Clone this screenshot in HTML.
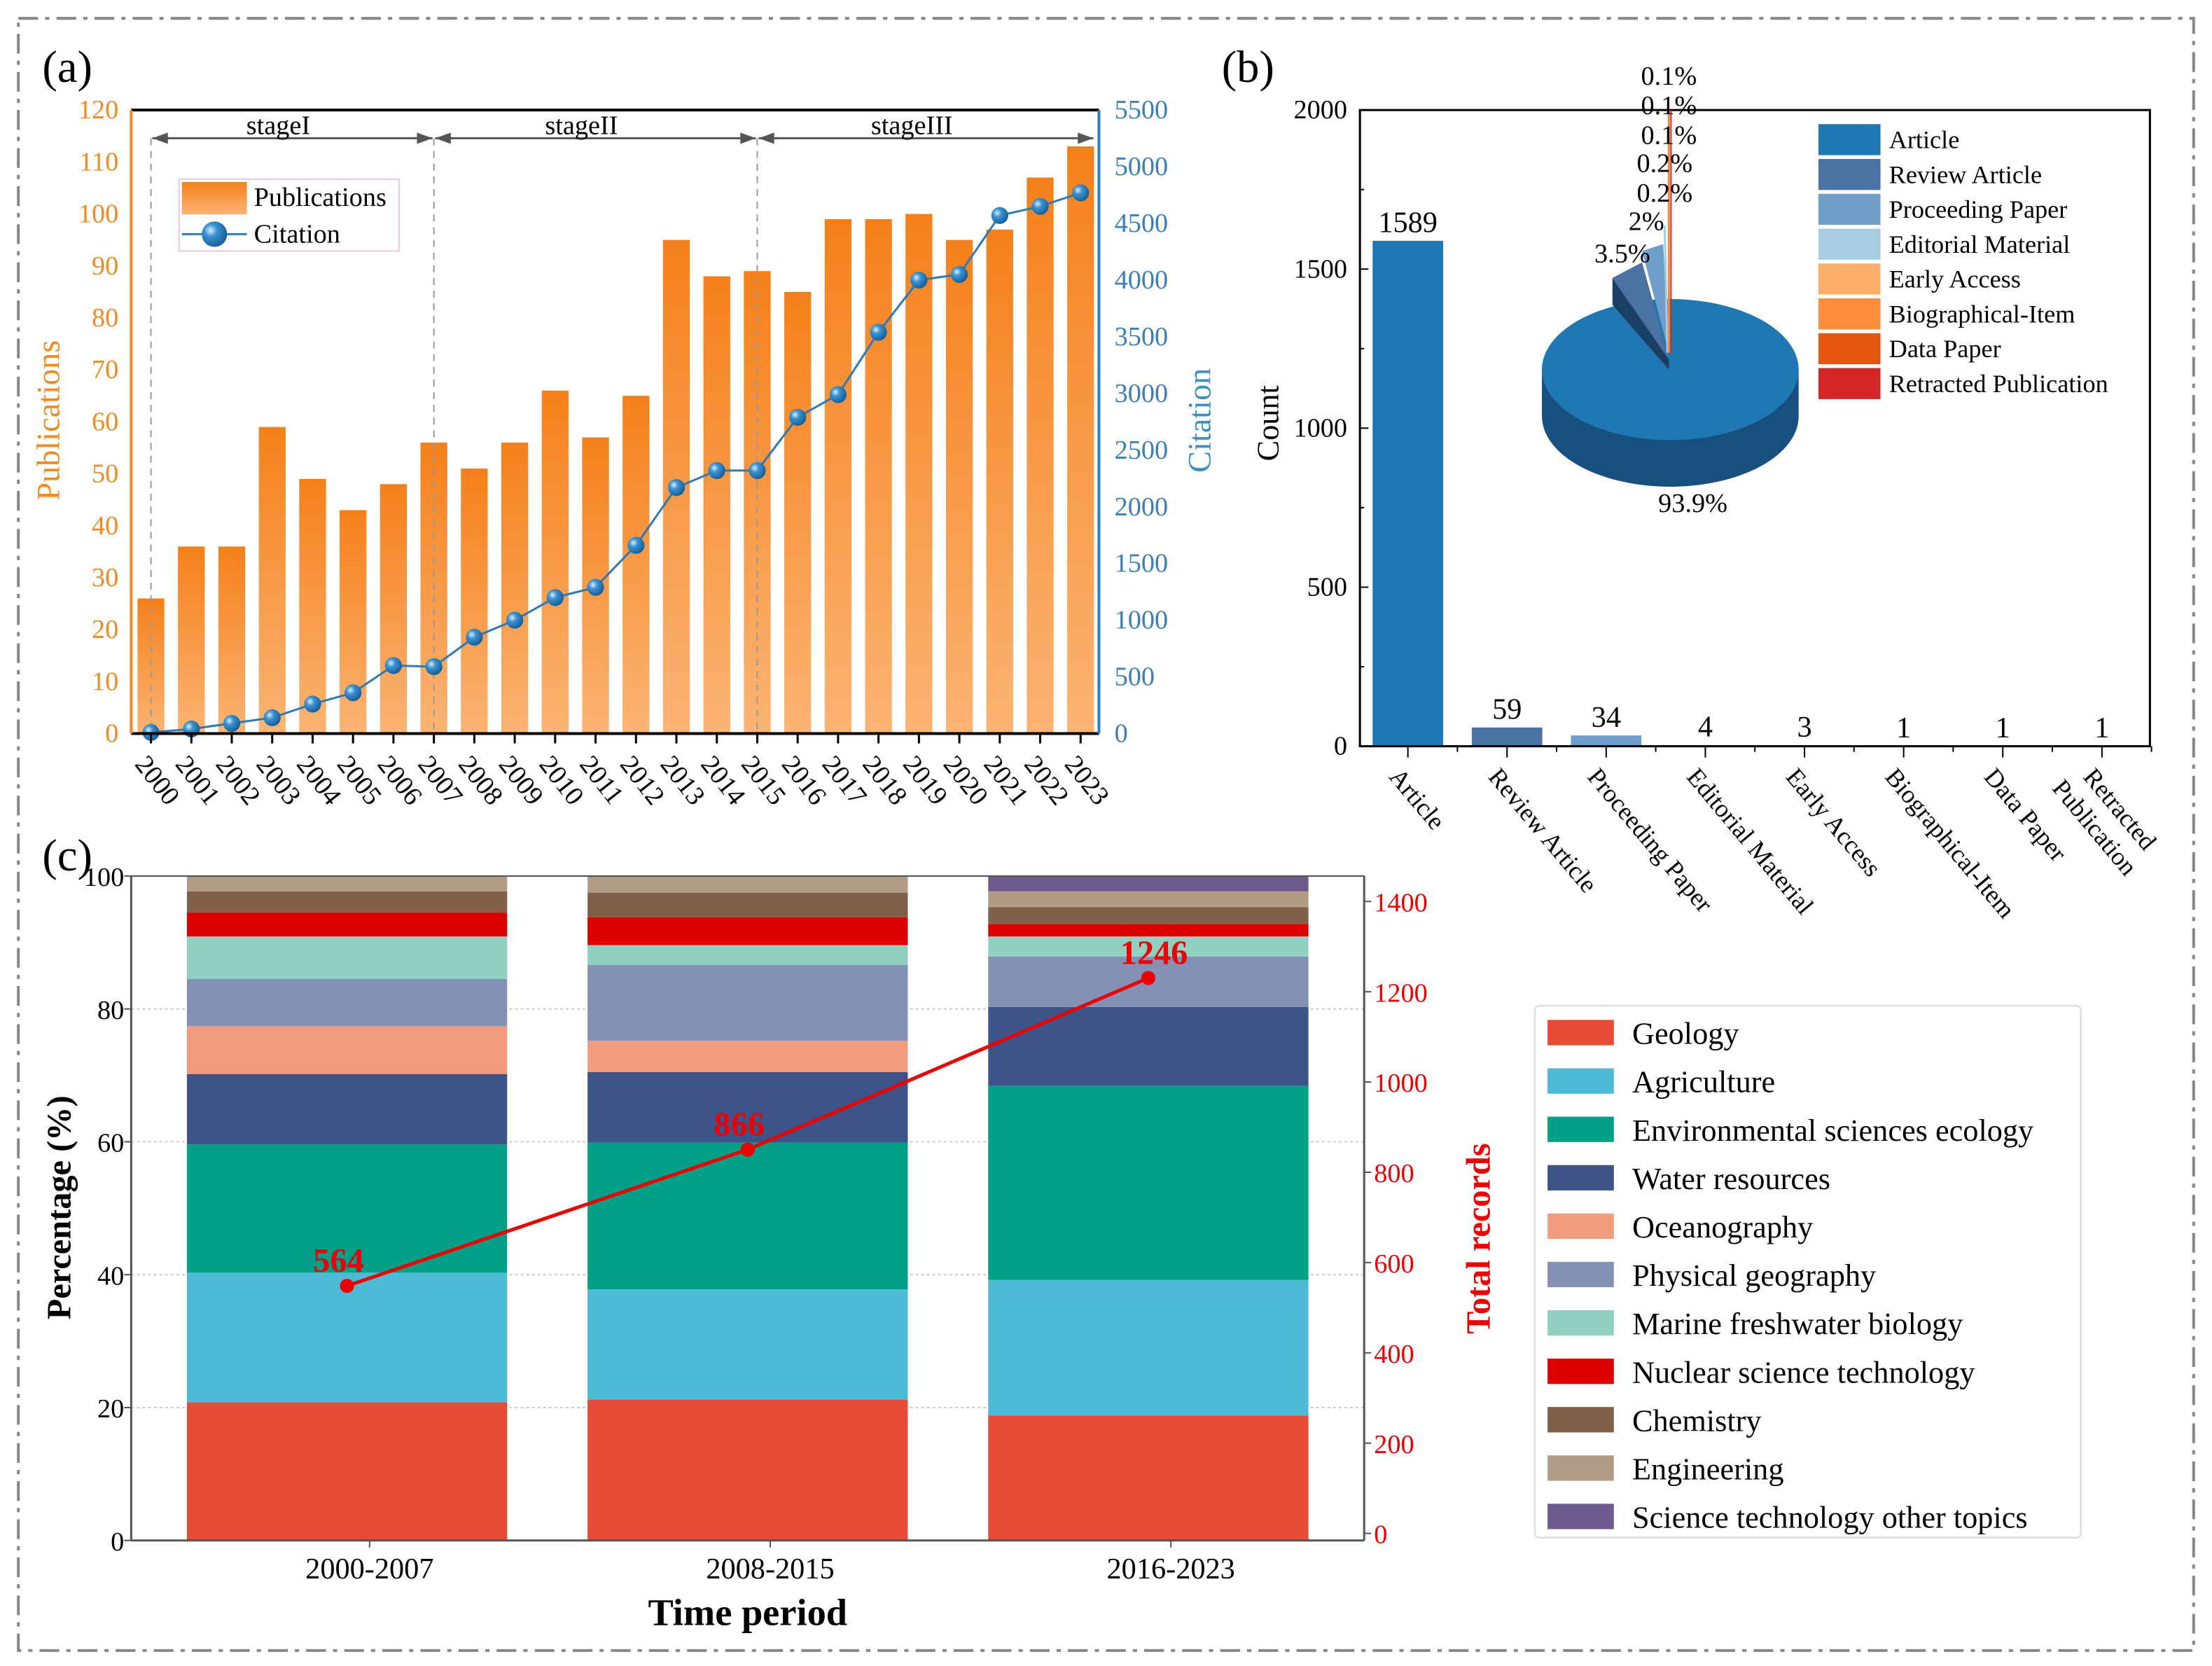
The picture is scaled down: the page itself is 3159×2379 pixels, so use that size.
<!DOCTYPE html>
<html><head><meta charset="utf-8">
<style>
html,body{margin:0;padding:0;background:#fff;}
svg{display:block;font-family:"Liberation Serif",serif;}
</style></head>
<body>
<svg id="fig" xmlns="http://www.w3.org/2000/svg" width="3159" height="2379" viewBox="0 0 1568 1181" preserveAspectRatio="none">
<defs>
<linearGradient id="barGrad" x1="0" y1="0" x2="0" y2="1">
<stop offset="0" stop-color="#f5801a"/><stop offset="1" stop-color="#fbb473"/>
</linearGradient>
<radialGradient id="ball" cx="0.35" cy="0.35" r="0.7">
<stop offset="0" stop-color="#d8eefc"/><stop offset="0.35" stop-color="#3a93d3"/><stop offset="1" stop-color="#155a94"/>
</radialGradient>
</defs>
<rect x="13" y="13" width="1542" height="1157" fill="none" stroke="#888" stroke-width="2" stroke-dasharray="14,5,3,5"/>
<g id="pa"></g>
<g id="pb"></g>
<g id="pc"></g>
</svg>
<script>
// ---- Panel (a) data ----
const years = ["2000","2001","2002","2003","2004","2005","2006","2007","2008","2009","2010","2011","2012","2013","2014","2015","2016","2017","2018","2019","2020","2021","2022","2023"];
const publications = [26,36,36,59,49,43,48,56,51,56,66,57,65,95,88,89,85,99,99,100,95,97,107,113];
const citations = [10,40,90,140,260,360,600,590,850,1000,1200,1290,1660,2170,2320,2320,2790,2990,3540,4000,4050,4570,4650,4770];
const pubTicks = [0,10,20,30,40,50,60,70,80,90,100,110,120];
const citTicks = [0,500,1000,1500,2000,2500,3000,3500,4000,4500,5000,5500];
// ---- Panel (b) data ----
const docTypes = ["Article","Review Article","Proceeding Paper","Editorial Material","Early Access","Biographical-Item","Data Paper","Retracted Publication"];
const docCounts = [1589,59,34,4,3,1,1,1];
const countTicks = [0,500,1000,1500,2000];
const pieLabels = ["0.1%","0.1%","0.1%","0.2%","0.2%","2%","3.5%","93.9%"];
// ---- Panel (c) data ----
const periods = ["2000-2007","2008-2015","2016-2023"];
const subjects = ["Geology","Agriculture","Environmental sciences ecology","Water resources","Oceanography","Physical geography","Marine freshwater biology","Nuclear science technology","Chemistry","Engineering","Science technology other topics"];
const share1 = [20.8,19.5,19.3,10.6,7.2,7.1,6.4,3.6,3.2,2.3,0];
const share2 = [21.2,16.6,22.1,10.6,4.7,11.4,3.0,4.2,3.7,2.5,0];
const share3 = [18.8,20.4,29.2,11.9,0,7.6,3.0,1.9,2.5,2.4,2.3];
const totalRecords = [564,866,1246];
const pctTicks = [0,20,40,60,80,100];
const recTicks = [0,200,400,600,800,1000,1200,1400];

const NS="http://www.w3.org/2000/svg";
function mk(parent,tag,attrs,text){const e=document.createElementNS(NS,tag);for(const k in attrs)e.setAttribute(k,attrs[k]);if(text!==undefined)e.textContent=text;parent.appendChild(e);return e;}

// ================= Panel A =================
(function(){
const g=document.getElementById('pa');
const X0=93,X1=779,Y0=520,Y1=78;
const yP=v=>Y0-(v/120)*(Y0-Y1);
const yC=v=>Y0-(v/5500)*(Y0-Y1);
const xs=i=>107+i*(766-107)/(years.length-1);
let t=mk(g,'text',{x:30,y:58,'font-size':32},'(a)');
publications.forEach((v,i)=>{const r=mk(g,'rect',{x:xs(i)-9.5,y:yP(v),width:19,height:Y0-yP(v),fill:'url(#barGrad)'});
});
const divs=[[0,"stageI",7],[7,"stageII",15],[15,"stageIII",23]];
[0,7,15].forEach(i=>{const l=mk(g,'line',{x1:xs(i),y1:98,x2:xs(i),y2:Y0,stroke:'#999','stroke-width':1,'stroke-dasharray':'5,4'});});
divs.forEach(d=>{const a=xs(d[0])+1, b=(d[2]===23?775:xs(d[2])-1);
const l=mk(g,'line',{x1:a,y1:98,x2:b,y2:98,stroke:'#555','stroke-width':1.5});

mk(g,'path',{d:`M${a},98 l11,-4 v8z`,fill:'#555'});
mk(g,'path',{d:`M${b},98 l-11,-4 v8z`,fill:'#555'});
const s=mk(g,'text',{x:(a+b)/2-10,y:95,'font-size':19,'text-anchor':'middle'},d[1]);});
let dpts=citations.map((v,i)=>`${xs(i)},${yC(v)}`).join(' ');
const pl=mk(g,'polyline',{points:dpts,fill:'none',stroke:'#2f79b5','stroke-width':1.5});
citations.forEach((v,i)=>{const c=mk(g,'circle',{cx:xs(i),cy:yC(v),r:6,fill:'url(#ball)'});});
mk(g,'line',{x1:X0,y1:Y1,x2:X1,y2:Y1,stroke:'#000','stroke-width':2});
mk(g,'line',{x1:X0,y1:Y0,x2:X1,y2:Y0,stroke:'#000','stroke-width':2});
mk(g,'line',{x1:X0,y1:Y1,x2:X0,y2:Y0,stroke:'#f28a1e','stroke-width':2});
mk(g,'line',{x1:X1,y1:Y1,x2:X1,y2:Y0,stroke:'#2f7fc0','stroke-width':2});
pubTicks.forEach(v=>{const tt=mk(g,'text',{x:84,y:yP(v)+6,'font-size':19,fill:'#f28a1e','text-anchor':'end'},v);});
citTicks.forEach(v=>{const tt=mk(g,'text',{x:790,y:yC(v)+6,'font-size':19,fill:'#3a7fb8'},v);});
years.forEach((y,i)=>{mk(g,'line',{x1:xs(i),y1:Y0,x2:xs(i),y2:Y0+7,stroke:'#000','stroke-width':1.5});
const px=xs(i)-12,py=Y0+22;
const tt=mk(g,'text',{x:px,y:py,'font-size':19,transform:`rotate(52 ${px} ${py})`},y);});
t=mk(g,'text',{x:42,y:298,'font-size':23,fill:'#f28a1e','text-anchor':'middle',transform:'rotate(-90 42 298)'},'Publications');
t=mk(g,'text',{x:858,y:298,'font-size':23,fill:'#3a8fc6','text-anchor':'middle',transform:'rotate(-90 858 298)'},'Citation');
const lg=mk(g,'g',{});
mk(lg,'rect',{x:127,y:127,width:156,height:51,fill:'#fff',stroke:'#f0c8d0','stroke-width':1});
mk(lg,'rect',{x:129,y:129,width:46,height:23,fill:'url(#barGrad)'});
mk(lg,'text',{x:180,y:146,'font-size':19},'Publications');
mk(lg,'line',{x1:129,y1:166,x2:175,y2:166,stroke:'#2f79b5','stroke-width':1.5});
mk(lg,'circle',{cx:152,cy:166,r:9,fill:'url(#ball)'});
mk(lg,'text',{x:180,y:172,'font-size':19},'Citation');
})();

// ================= Panel B =================
(function(){
const g=document.getElementById('pb');
const X0=964,X1=1524,Y0=529,Y1=78;
const y=v=>Y0-(v/2000)*(Y0-Y1);
const xs=i=>998+i*(1490-998)/(docTypes.length-1);
const cols=['#1f77b4','#4a72a3','#6f9ecb','#a6cde3','#fdae6b','#fd8d3c','#e6550d','#d62728'];
let t=mk(g,'text',{x:866,y:58,'font-size':32},'(b)');
docCounts.forEach((v,i)=>{const r=mk(g,'rect',{x:xs(i)-25,y:y(v),width:50,height:Math.max(Y0-y(v),0.8),fill:cols[i]});
const tt=mk(g,'text',{x:xs(i),y:y(v)-6,'font-size':21,'text-anchor':'middle'},v);});
mk(g,'rect',{x:X0,y:Y1,width:X1-X0,height:Y0-Y1,fill:'none',stroke:'#000','stroke-width':1.5});
countTicks.forEach(v=>{mk(g,'line',{x1:X0,y1:y(v),x2:X0+6,y2:y(v),stroke:'#000'});
const tt=mk(g,'text',{x:955,y:y(v)+6,'font-size':19,'text-anchor':'end'},v);});
[250,750,1250,1750].forEach(v=>mk(g,'line',{x1:X0,y1:y(v),x2:X0+3,y2:y(v),stroke:'#000'}));
docTypes.forEach((d,i)=>{mk(g,'line',{x1:xs(i),y1:Y0,x2:xs(i),y2:Y0+8,stroke:'#000'});
mk(g,'line',{x1:xs(i)+35.1,y1:Y0,x2:xs(i)+35.1,y2:Y0+4,stroke:'#000'});
const px=xs(i)-14,py=Y0+22;
if(i===7){const tt=mk(g,'text',{x:px,y:py,'font-size':18,transform:`rotate(50 ${px} ${py})`},'Retracted');
const t2=mk(g,'text',{x:px-22,y:py+8,'font-size':18,transform:`rotate(50 ${px-22} ${py+8})`},'Publication');}
else{const tt=mk(g,'text',{x:px,y:py,'font-size':18,transform:`rotate(50 ${px} ${py})`},d);}});
t=mk(g,'text',{x:906,y:300,'font-size':22,'text-anchor':'middle',transform:'rotate(-90 906 300)'},'Count');
const pg=mk(g,'g',{});
const cx=1184,cy=262,rx=91,ry=50,dp=33;
mk(pg,'path',{d:`M${cx-rx},${cy} v${dp} a${rx},${ry} 0 0 0 ${2*rx},0 v${-dp} z`,fill:'#17507f'});
mk(pg,'ellipse',{cx:cx,cy:cy,rx:rx,ry:ry,fill:'#1f77b4'});
mk(pg,'polygon',{points:`1143,197 1143,216 1183,262 1183,255`,fill:'#1b3e63'});
mk(pg,'polygon',{points:`1143,197 1164,186 1183,255`,fill:'#4a72a3'});
mk(pg,'polygon',{points:`1164,178 1179,173 1183,250`,fill:'#6f9ecb'});
mk(pg,'line',{x1:1180,y1:160,x2:1182,y2:250,stroke:'#a6cde3','stroke-width':1.5});
mk(pg,'line',{x1:1183,y1:78,x2:1183,y2:250,stroke:'#f08a3c','stroke-width':1.5});
mk(pg,'line',{x1:1184.5,y1:78,x2:1184.5,y2:250,stroke:'#d62728','stroke-width':1});
const pp=[[1183,60],[1183,81],[1183,102],[1180,122],[1180,143],[1167,163],[1150,186],[1200,363]];
pieLabels.forEach((s,i)=>{const tt=mk(g,'text',{x:pp[i][0],y:pp[i][1],'font-size':19,'text-anchor':'middle'},s);});
const lg=mk(g,'g',{});
docTypes.forEach((d,i)=>{const yy=88+i*24.7;mk(lg,'rect',{x:1289,y:yy,width:44,height:22,fill:cols[i]});
mk(lg,'text',{x:1339,y:yy+17,'font-size':18},d);});
})();

// ================= Panel C =================
(function(){
const g=document.getElementById('pc');
const X0=93,X1=967,Y0=1092,Y1=621;
const yp=v=>Y0-(v/100)*(Y0-Y1);
const yr=v=>Y0-(v/1472)*(Y0-Y1);
const xs=i=>246+i*284;
const cols=['#e64b35','#4dbbd5','#00a087','#3c5488','#f39b7f','#8491b4','#91d1c2','#dc0000','#7e6148','#b09c85','#6f5a8e'];
const shares=[share1,share2,share3];
let t=mk(g,'text',{x:30,y:617,'font-size':32},'(c)');
pctTicks.slice(1,5).forEach(v=>mk(g,'line',{x1:X0,y1:yp(v),x2:X1,y2:yp(v),stroke:'#ccc','stroke-width':1,'stroke-dasharray':'2,2'}));
shares.forEach((arr,p)=>{let acc=0;arr.forEach((v,k)=>{if(v<=0)return;const r=mk(g,'rect',{x:xs(p)-113.5,y:yp(acc+v),width:227,height:yp(acc)-yp(acc+v),fill:cols[k]});
acc+=v;});});
mk(g,'line',{x1:X0,y1:Y1,x2:X0,y2:Y0,stroke:'#555','stroke-width':1.5});
mk(g,'line',{x1:X0,y1:Y0,x2:X1,y2:Y0,stroke:'#555','stroke-width':1.5});
mk(g,'line',{x1:X1,y1:Y1,x2:X1,y2:Y0,stroke:'#555','stroke-width':1.5});
mk(g,'line',{x1:X0,y1:Y1,x2:X1,y2:Y1,stroke:'#555','stroke-width':1});
pctTicks.forEach(v=>{mk(g,'line',{x1:X0,y1:yp(v),x2:X0-5,y2:yp(v),stroke:'#555'});
const tt=mk(g,'text',{x:88,y:yp(v)+7,'font-size':19,'text-anchor':'end'},v);});
recTicks.forEach(v=>{mk(g,'line',{x1:X1,y1:yr(v)-5,x2:X1+5,y2:yr(v)-5,stroke:'#555'});
const tt=mk(g,'text',{x:974,y:yr(v)+2,'font-size':19,fill:'#e00'},v);});
periods.forEach((p,i)=>{mk(g,'line',{x1:xs(i)+16,y1:Y0,x2:xs(i)+16,y2:Y0+5,stroke:'#555'});
const tt=mk(g,'text',{x:xs(i)+16,y:1119,'font-size':21,'text-anchor':'middle'},p);});
const pl=mk(g,'polyline',{points:totalRecords.map((v,i)=>`${xs(i)},${yr(v)}`).join(' '),fill:'none',stroke:'#e00','stroke-width':2.5});
totalRecords.forEach((v,i)=>{const c=mk(g,'circle',{cx:xs(i),cy:yr(v),r:5,fill:'#e00'});
const tt=mk(g,'text',{x:xs(i)-6+(i===2?10:0),y:yr(v)-10,'font-size':24,'font-weight':'bold',fill:'#e00','text-anchor':'middle'},v);});
t=mk(g,'text',{x:50,y:856,'font-size':24,'font-weight':'bold','text-anchor':'middle',transform:'rotate(-90 50 856)'},'Percentage (%)');
t=mk(g,'text',{x:1056,y:878,'font-size':24,'font-weight':'bold',fill:'#e00','text-anchor':'middle',transform:'rotate(-90 1056 878)'},'Total records');
t=mk(g,'text',{x:530,y:1152,'font-size':27,'font-weight':'bold','text-anchor':'middle'},'Time period');
const lg=mk(g,'g',{});
mk(lg,'rect',{x:1088,y:713,width:387,height:377,fill:'#fff',stroke:'#ddd','stroke-width':1.2,rx:3});
subjects.forEach((s,i)=>{const yy=732+i*34.3;mk(lg,'rect',{x:1097,y:yy-9,width:47,height:18,fill:cols[i]});
mk(lg,'text',{x:1157,y:yy+8,'font-size':22},s);});
})();
</script>
</body></html>
